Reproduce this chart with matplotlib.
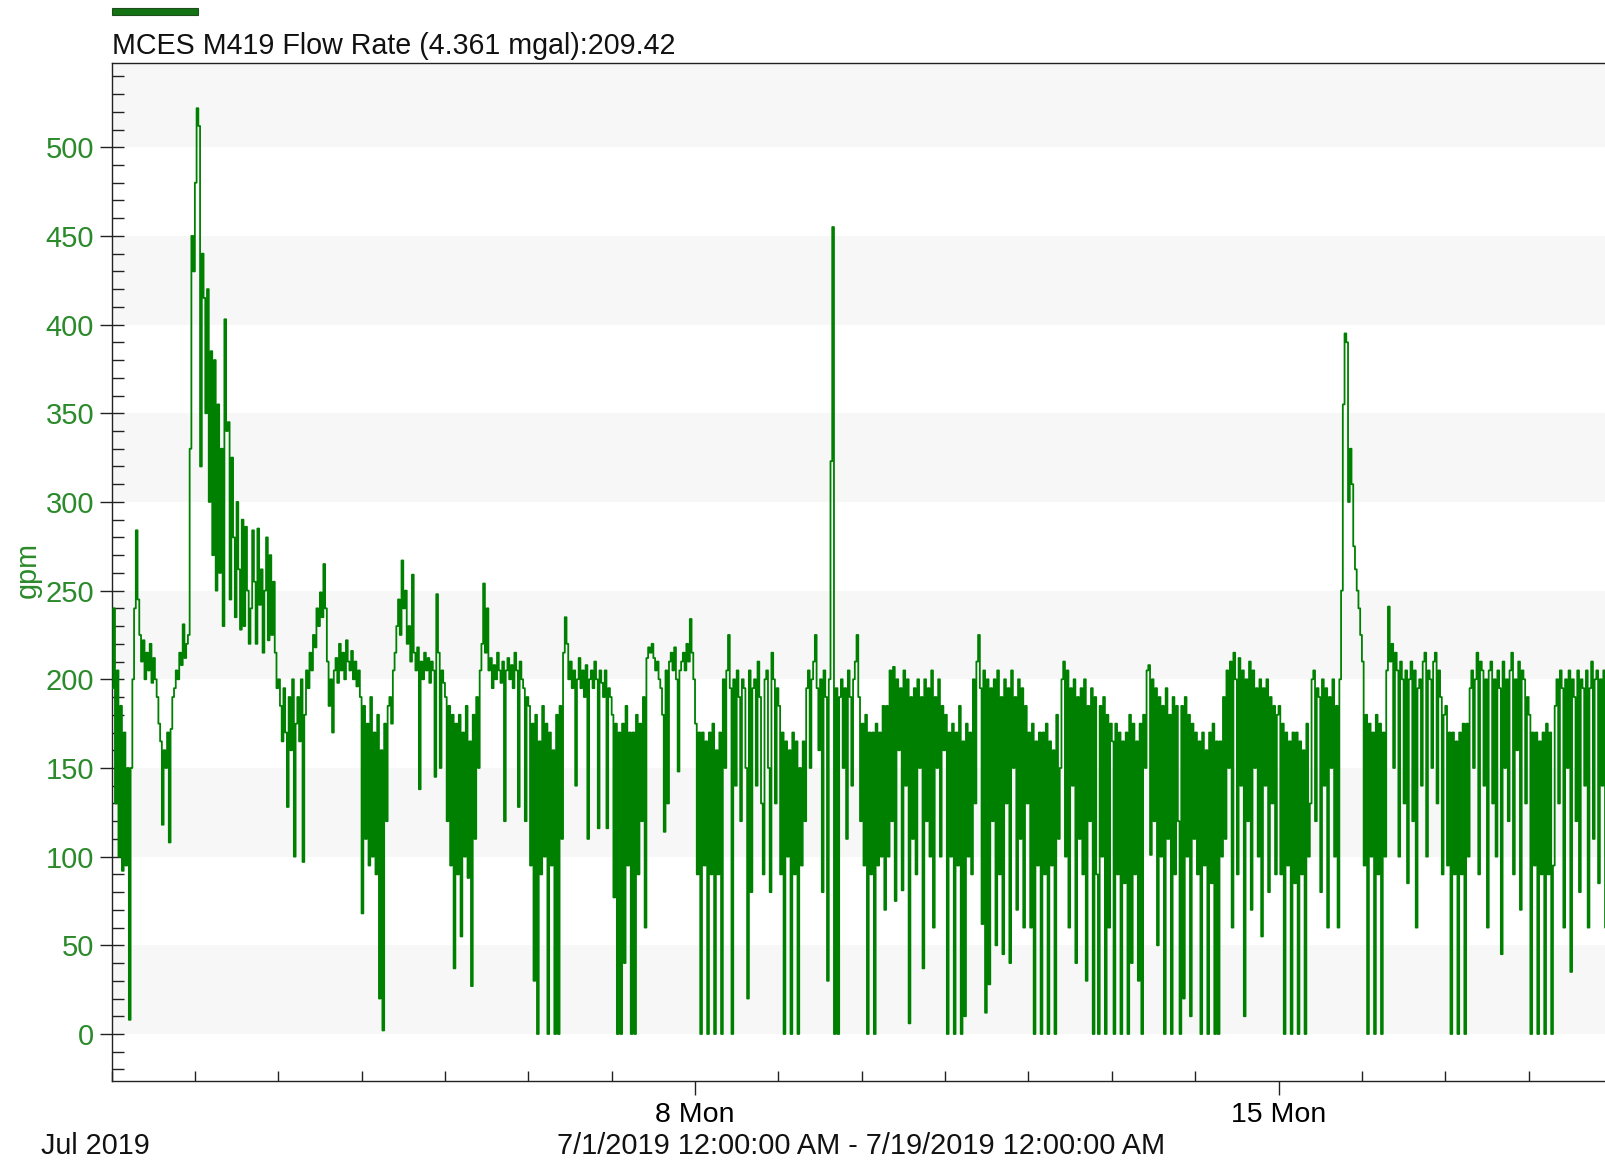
import matplotlib
matplotlib.use('Agg')
import matplotlib.pyplot as plt
import matplotlib.dates as mdates
from matplotlib.ticker import MultipleLocator, FixedLocator
from matplotlib.patches import Rectangle
import pandas as pd

plt.rcParams['font.family'] = ['Liberation Sans', 'DejaVu Sans']

# ---- data: flow rate (gpm), 30-minute readings, one list per day (Jul 1 .. Jul 18, 2019)
day01 = [195, 240, 130, 205, 100, 185, 92, 170, 95, 150, 8, 150, 200, 240, 284, 245,
         225, 210, 222, 200, 215, 205, 220, 198, 212, 200, 190, 175, 165, 118, 160, 150,
         170, 108, 172, 190, 195, 205, 200, 215, 208, 231, 212, 220, 225, 330, 450, 430]
day02 = [480, 522, 512, 320, 440, 415, 350, 420, 300, 385, 270, 380, 250, 355, 260, 330,
         230, 403, 340, 345, 245, 325, 280, 235, 300, 262, 228, 290, 230, 286, 250, 220,
         240, 284, 255, 220, 285, 242, 262, 215, 250, 280, 222, 270, 225, 255, 215, 195]
day03 = [200, 185, 165, 195, 170, 128, 190, 160, 200, 100, 175, 190, 165, 200, 97, 180,
         205, 195, 215, 205, 225, 218, 240, 230, 249, 235, 265, 240, 210, 185, 200, 170,
         205, 212, 198, 220, 205, 215, 200, 222, 210, 205, 216, 200, 210, 196, 205, 190]
day04 = [68, 185, 110, 175, 95, 190, 100, 170, 90, 180, 20, 160, 2, 175, 120, 185,
         190, 175, 205, 215, 230, 245, 225, 267, 240, 250, 220, 230, 210, 259, 215, 205,
         218, 138, 210, 200, 215, 205, 212, 198, 210, 205, 145, 248, 215, 150, 205, 198]
day05 = [190, 120, 185, 95, 180, 37, 175, 90, 180, 55, 170, 100, 185, 88, 165, 27,
         180, 110, 190, 150, 205, 220, 254, 215, 240, 205, 212, 195, 208, 200, 215, 205,
         198, 210, 120, 205, 212, 200, 208, 195, 215, 205, 128, 210, 200, 195, 120, 190]
day06 = [185, 95, 175, 30, 180, 0, 165, 90, 185, 100, 175, 0, 170, 95, 160, 0,
         180, 0, 185, 110, 215, 235, 220, 200, 210, 195, 205, 140, 200, 212, 195, 205,
         190, 208, 110, 200, 205, 195, 210, 200, 116, 205, 198, 190, 205, 116, 195, 190]
day07 = [180, 77, 175, 0, 170, 0, 175, 40, 185, 95, 170, 0, 170, 0, 180, 90,
         175, 120, 190, 60, 212, 218, 215, 220, 212, 205, 210, 200, 195, 180, 114, 205,
         130, 210, 215, 205, 218, 200, 148, 205, 210, 215, 205, 220, 210, 234, 215, 200]
day08 = [175, 90, 170, 0, 170, 95, 165, 0, 170, 90, 175, 0, 160, 90, 170, 0,
         200, 150, 205, 225, 195, 0, 200, 140, 205, 190, 120, 200, 195, 150, 20, 205,
         80, 195, 200, 140, 210, 190, 130, 90, 200, 205, 150, 80, 215, 200, 130, 195]
day09 = [185, 90, 170, 0, 165, 100, 160, 0, 170, 90, 165, 0, 150, 95, 165, 120,
         195, 205, 150, 200, 210, 225, 195, 160, 200, 80, 205, 190, 30, 200, 323, 455,
         0, 195, 0, 190, 200, 150, 195, 110, 205, 190, 140, 200, 210, 225, 190, 120]
day10 = [175, 95, 180, 0, 170, 90, 170, 0, 175, 95, 170, 100, 185, 70, 185, 100,
         205, 120, 207, 75, 200, 160, 195, 81, 205, 140, 200, 6, 190, 110, 195, 90,
         200, 150, 190, 37, 200, 120, 195, 100, 205, 60, 190, 150, 200, 100, 185, 160]
day11 = [180, 0, 170, 100, 175, 0, 170, 95, 185, 0, 165, 10, 175, 100, 170, 90,
         200, 130, 210, 225, 195, 62, 205, 12, 200, 28, 195, 120, 200, 50, 205, 90,
         190, 45, 200, 130, 195, 40, 205, 150, 190, 70, 200, 110, 195, 60, 185, 130]
day12 = [170, 60, 175, 0, 165, 95, 170, 0, 170, 90, 175, 0, 165, 95, 160, 0,
         180, 110, 150, 200, 210, 100, 205, 60, 195, 140, 200, 40, 190, 110, 195, 90,
         200, 30, 185, 120, 195, 0, 190, 90, 0, 185, 100, 190, 0, 180, 60, 175]
day13 = [165, 0, 175, 90, 170, 0, 165, 85, 170, 0, 180, 40, 175, 90, 165, 30,
         175, 0, 180, 150, 205, 208, 101, 200, 120, 195, 50, 190, 100, 185, 0, 195,
         110, 180, 0, 190, 90, 185, 120, 0, 185, 20, 190, 100, 180, 10, 175, 110]
day14 = [170, 90, 165, 0, 170, 95, 160, 0, 170, 85, 175, 0, 165, 0, 165, 100,
         190, 110, 205, 150, 210, 60, 215, 200, 90, 212, 140, 205, 10, 200, 120, 210,
         70, 205, 150, 195, 100, 200, 55, 195, 140, 200, 80, 190, 130, 185, 90, 180]
day15 = [185, 90, 175, 0, 170, 95, 165, 0, 170, 85, 170, 0, 165, 90, 160, 0,
         175, 100, 130, 200, 205, 120, 195, 190, 80, 200, 140, 195, 60, 190, 150, 200,
         100, 185, 60, 200, 250, 355, 395, 390, 300, 330, 310, 275, 262, 250, 240, 225]
day16 = [210, 95, 180, 0, 175, 100, 170, 0, 180, 90, 175, 0, 170, 100, 205, 241,
         210, 220, 150, 215, 205, 100, 210, 200, 130, 205, 85, 200, 210, 120, 205, 60,
         195, 200, 140, 210, 215, 100, 205, 200, 150, 210, 215, 130, 205, 190, 90, 180]
day17 = [185, 95, 170, 0, 170, 90, 165, 0, 170, 90, 175, 0, 175, 100, 195, 205,
         150, 200, 215, 90, 210, 205, 140, 200, 60, 205, 210, 130, 200, 100, 205, 195,
         45, 210, 150, 200, 120, 205, 215, 90, 200, 160, 210, 70, 205, 200, 130, 190]
day18 = [180, 0, 170, 95, 170, 0, 165, 90, 170, 0, 175, 90, 170, 0, 95, 185,
         200, 130, 205, 195, 60, 200, 150, 205, 35, 200, 190, 120, 205, 80, 200, 195,
         140, 205, 60, 195, 210, 110, 200, 205, 85, 200, 140, 205, 60, 200, 195, 205]

days = [day01, day02, day03, day04, day05, day06, day07, day08, day09,
        day10, day11, day12, day13, day14, day15, day16, day17, day18]

x_major_dates = ['2019-07-08', '2019-07-15']
y_band_starts = [0, 100, 200, 300, 400, 500]
title_text = 'MCES M419 Flow Rate (4.361 mgal):209.42'
range_text = '7/1/2019 12:00:00 AM - 7/19/2019 12:00:00 AM'
month_text = 'Jul 2019'
y_label = 'gpm'

# ---- figure
W, H = 1605, 1162
fig = plt.figure(figsize=(W / 100, H / 100), dpi=100)


def fx(px):
    return px / W


def fy(py):
    return 1 - py / H


ax = fig.add_axes([fx(111.5), fy(1081), (1612 - 111.5) / W, (1081 - 63) / H])

GREEN = '#008000'
LABEL_GREEN = '#2b8a2b'

times = []
flow = []
for k, d in enumerate(days):
    t = pd.date_range(pd.Timestamp('2019-07-01') + pd.Timedelta(days=k), periods=len(d), freq='30min')
    times.extend(list(t))
    flow.extend(d)

ax.plot(times, flow, drawstyle='steps-post', color=GREEN, lw=1.3, zorder=3)

ax.set_xlim(pd.Timestamp('2019-07-01'), pd.Timestamp('2019-07-19'))
ax.set_ylim(-26.5, 547.5)

for lo in y_band_starts:
    ax.axhspan(lo, lo + 50, color='#f7f7f7', lw=0, zorder=0)

ax.yaxis.set_major_locator(MultipleLocator(50))
ax.yaxis.set_minor_locator(MultipleLocator(10))
ax.tick_params(axis='y', which='major', direction='inout', length=17, width=1.0,
               pad=4, labelsize=21, labelcolor=LABEL_GREEN, color='#222222')
ax.tick_params(axis='y', which='minor', direction='in', length=8.6, width=1.0, color='#222222')

ax.xaxis.set_major_locator(FixedLocator([mdates.date2num(pd.Timestamp(s)) for s in x_major_dates]))
ax.xaxis.set_major_formatter(mdates.DateFormatter('%-d %a'))
ax.xaxis.set_minor_locator(mdates.DayLocator())
ax.tick_params(axis='x', which='major', direction='out', length=10, width=1.0, pad=5,
               labelsize=20.5, color='#222222')
ax.tick_params(axis='x', which='minor', direction='in', length=7, width=1.0, color='#222222')

for s in ['left', 'bottom', 'top']:
    ax.spines[s].set_color('#222222')
    ax.spines[s].set_linewidth(1.0)
ax.spines['right'].set_visible(False)

# ---- texts
fig.text(fx(111.5), fy(53.5), title_text, fontsize=20.6, ha='left', va='baseline', color='#111111')
fig.patches.append(Rectangle((fx(111.5), fy(15)), (197.5 - 111.5) / W, 7 / H,
                             transform=fig.transFigure, facecolor='#137313',
                             edgecolor='#1e4d1e', lw=0.8))
fig.text(fx(41), fy(1153.5), month_text, fontsize=20.7, ha='left', va='baseline', color='#111111')
fig.text(fx(861), fy(1153.5), range_text, fontsize=20.8, ha='center', va='baseline', color='#111111')
fig.text(fx(27.6), fy(570), y_label, fontsize=20.7, rotation=90, ha='center', va='center',
         color=LABEL_GREEN)

fig.savefig('out.png', dpi=100)
